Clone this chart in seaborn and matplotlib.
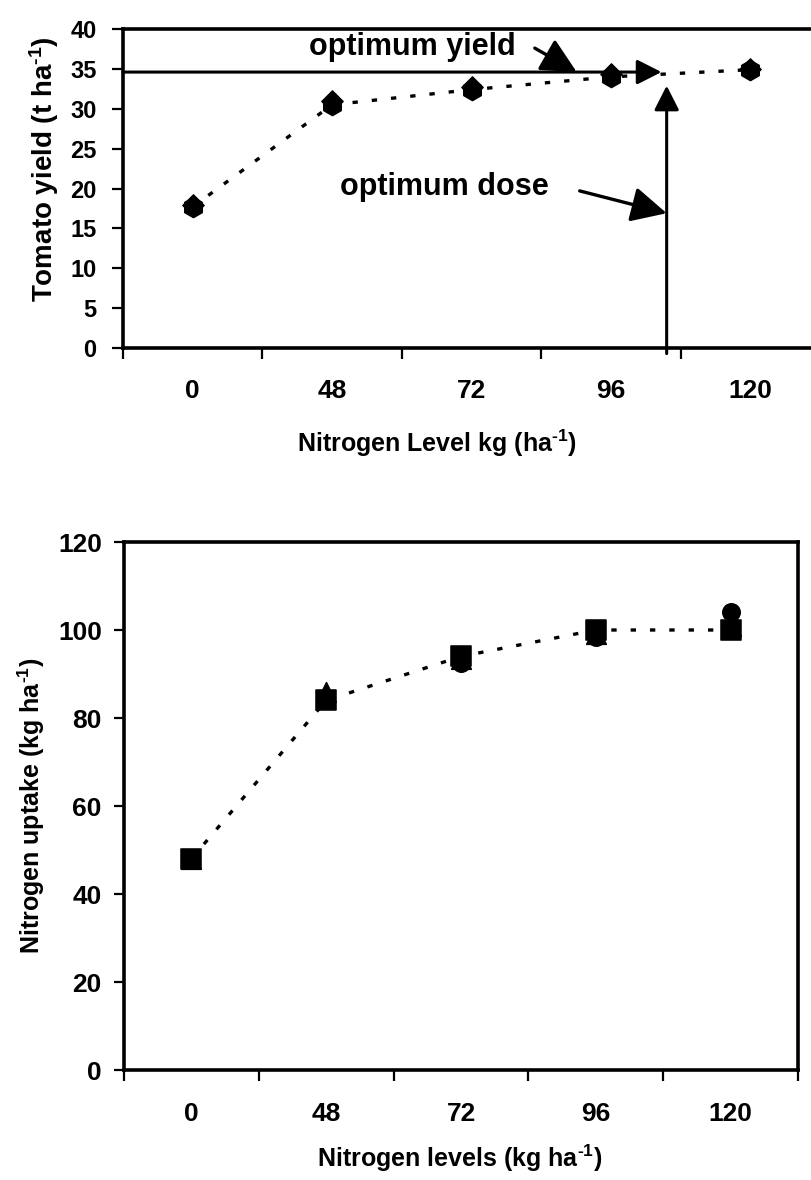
import numpy as np
import pandas as pd
import matplotlib
matplotlib.use("Agg")
import matplotlib.pyplot as plt
import seaborn as sns
from matplotlib.ticker import FixedLocator

# ---------------- data ----------------
n_levels = ["0", "48", "72", "96", "120"]
yield_a = [17.7, 30.5, 32.4, 34.0, 34.9]      # hexagon markers (dotted line)
yield_b = [17.9, 31.0, 32.7, 34.3, 35.0]      # diamond markers
opt_yield = 34.6                              # optimum yield (t/ha)
opt_dose_pos = 3.40                           # optimum dose on the category axis
uptake_sq = [48, 84, 94, 100, 100]            # squares (dotted line)
uptake_tri = [48, 86, 93.5, 99, 101]          # triangles
uptake_circ = [48, 84.5, 92.5, 98.5, 104]     # circles
top_yticks = list(range(0, 41, 5))
bot_yticks = list(range(0, 121, 20))

sns.set_theme(style="ticks")
plt.rcParams["font.family"] = ["Liberation Sans", "DejaVu Sans"]
plt.rcParams["font.weight"] = "bold"
plt.rcParams["axes.labelweight"] = "bold"
plt.rcParams["text.color"] = "black"
plt.rcParams["axes.labelcolor"] = "black"
plt.rcParams["xtick.color"] = "black"
plt.rcParams["ytick.color"] = "black"
plt.rcParams["xtick.labelcolor"] = "black"
plt.rcParams["ytick.labelcolor"] = "black"
plt.rcParams["mathtext.fontset"] = "custom"
plt.rcParams["mathtext.rm"] = "Liberation Sans:bold"
plt.rcParams["mathtext.it"] = "Liberation Sans:bold"
plt.rcParams["mathtext.bf"] = "Liberation Sans:bold"
plt.rcParams["mathtext.default"] = "rm"

pos = np.arange(len(n_levels))
df_top = pd.DataFrame({"pos": pos, "a": yield_a, "b": yield_b})
df_bot = pd.DataFrame({"pos": pos, "sq": uptake_sq, "tri": uptake_tri, "circ": uptake_circ})

fig = plt.figure(figsize=(8.11, 11.8), dpi=100)
ax1 = fig.add_axes([123 / 811, 1 - 348 / 1180, 697 / 811, 319 / 1180])
ax2 = fig.add_axes([124 / 811, 1 - 1070 / 1180, 674 / 811, 528 / 1180])

dot_ls = (0, (1.6, 4.2))
sup = r"$^{\text{-}1}$"

# ---------------- top panel ----------------
sns.lineplot(data=df_top, x="pos", y="a", ax=ax1, color="black", lw=2.4,
             linestyle=dot_ls, zorder=3)
sns.scatterplot(data=df_top, x="pos", y="b", ax=ax1, marker="D", s=120,
                color="black", edgecolor="black", zorder=4)
sns.scatterplot(data=df_top, x="pos", y="a", ax=ax1, marker="h", s=210,
                color="black", edgecolor="black", zorder=5)

ax1.set_xlim(-0.5, 4.5)
ax1.set_ylim(0, 40)

arrow_small = dict(arrowstyle="-|>,head_length=0.75,head_width=0.38", lw=2.2,
                   color="black", mutation_scale=20, shrinkA=0, shrinkB=0)
arrow_big = dict(arrowstyle="-|>,head_length=0.9,head_width=0.45", lw=2.4,
                 color="black", mutation_scale=24, shrinkA=0, shrinkB=0)
# horizontal optimum-yield line
ax1.annotate("", xy=(3.363, opt_yield), xytext=(-0.5, opt_yield),
             arrowprops=arrow_small, zorder=2)
# vertical optimum-dose line
ax1.annotate("", xy=(opt_dose_pos, 32.9), xytext=(opt_dose_pos, -0.7),
             arrowprops=arrow_small, zorder=2, annotation_clip=False)
# labels with arrows
ax1.text(1.574, 37.7, "optimum yield", ha="center", va="center", fontsize=22,
         fontweight="bold", color="black")
ax1.annotate("", xy=(2.755, opt_yield), xytext=(2.454, 37.6), arrowprops=arrow_big)
ax1.text(1.803, 20.2, "optimum dose", ha="center", va="center", fontsize=22,
         fontweight="bold", color="black")
ax1.annotate("", xy=(opt_dose_pos, 16.9), xytext=(2.776, 19.7), arrowprops=arrow_big)

ax1.set_yticks(top_yticks)
ax1.tick_params(axis="y", labelsize=17, length=8, width=1.6, direction="out", pad=11,
                color="black")
ax1.set_ylabel("Tomato yield (t ha" + sup + ")", fontsize=20, fontweight="bold")
ax1.yaxis.label.set_va("center")
ax1.yaxis.set_label_coords(-0.113, 0.56)
ax1.set_xlabel("Nitrogen Level kg (ha" + sup + ")", fontsize=18, fontweight="bold")
ax1.xaxis.label.set_va("center")
ax1.xaxis.set_label_coords(0.4505, -0.298)

# ---------------- bottom panel ----------------
sns.lineplot(data=df_bot, x="pos", y="sq", ax=ax2, color="black", lw=2.4,
             linestyle=dot_ls, zorder=3)
sns.scatterplot(data=df_bot, x="pos", y="circ", ax=ax2, marker="o", s=160,
                color="black", edgecolor="black", zorder=4)
sns.scatterplot(data=df_bot, x="pos", y="tri", ax=ax2, marker="^", s=200,
                color="black", edgecolor="black", zorder=4)
sns.scatterplot(data=df_bot, x="pos", y="sq", ax=ax2, marker="s", s=200,
                color="black", edgecolor="black", zorder=5)

ax2.set_xlim(-0.5, 4.5)
ax2.set_ylim(0, 120)
ax2.set_yticks(bot_yticks)
ax2.tick_params(axis="y", labelsize=19, length=7, width=1.6, direction="out", pad=9,
                color="black")
ax2.set_ylabel("Nitrogen uptake (kg ha" + sup + ")", fontsize=18, fontweight="bold")
ax2.yaxis.label.set_va("center")
ax2.yaxis.set_label_coords(-0.138, 0.5)
ax2.set_xlabel("Nitrogen levels (kg ha" + sup + ")", fontsize=18, fontweight="bold")
ax2.xaxis.label.set_va("center")
ax2.xaxis.set_label_coords(0.4985, -0.1667)

# ---------------- common axis styling ----------------
for ax, xpad in ((ax1, 22), (ax2, 23)):
    ax.set_xticks(pos)
    ax.set_xticklabels(n_levels)
    ax.xaxis.set_minor_locator(FixedLocator(np.arange(-0.5, 5.0, 1.0)))
    ax.tick_params(axis="x", which="major", length=0, labelsize=19, pad=xpad)
    ax.tick_params(axis="x", which="minor", length=8, width=1.6, direction="out",
                   color="black")
    for sp in ax.spines.values():
        sp.set_visible(True)
        sp.set_linewidth(2.6)
        sp.set_color("black")
    ax.set_facecolor("white")
    ax.grid(False)

fig.savefig("out.png", dpi=100, facecolor="white")
